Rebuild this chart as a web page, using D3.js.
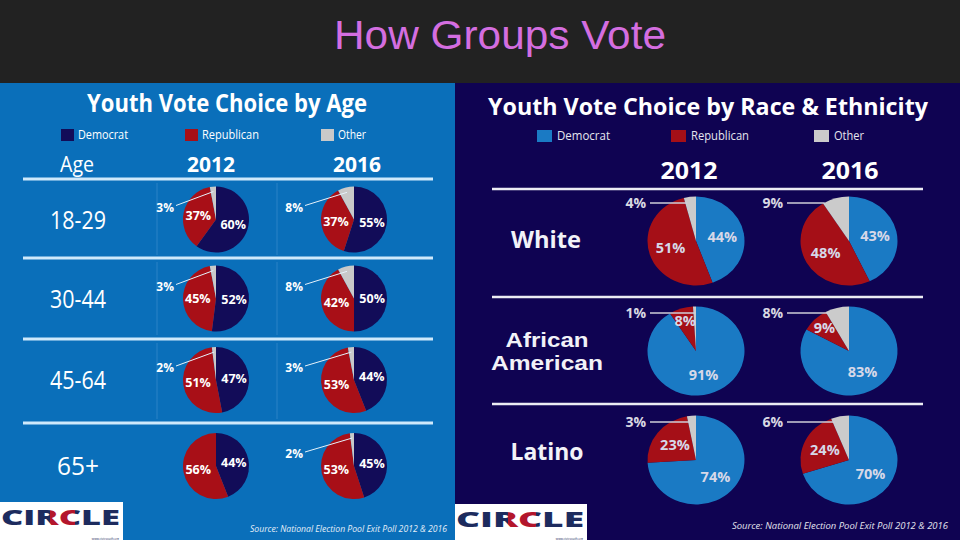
<!DOCTYPE html>
<html><head><meta charset="utf-8">
<script src="https://cdn.jsdelivr.net/npm/d3@7"></script>
<style>html,body{margin:0;padding:0;background:#222;}svg{display:block;}</style>
</head><body>
<script>
// ---------- DATA ----------
const parties = ["Democrat", "Republican", "Other"];
const years = ["2012", "2016"];
const ageGroups = ["18-29", "30-44", "45-64", "65+"];
const ageDem2012 = [60, 52, 47, 44];
const ageRep2012 = [37, 45, 51, 56];
const ageOth2012 = [3, 3, 2, 0];
const ageDem2016 = [55, 50, 44, 45];
const ageRep2016 = [37, 42, 53, 53];
const ageOth2016 = [8, 8, 3, 2];
const raceGroups = ["White", "African American", "Latino"];
const raceDem2012 = [44, 91, 74];
const raceRep2012 = [51, 8, 23];
const raceOth2012 = [4, 1, 3];
const raceDem2016 = [43, 83, 70];
const raceRep2016 = [48, 9, 24];
const raceOth2016 = [9, 8, 6];
const slideTitle = "How Groups Vote";
const ageTitle = "Youth Vote Choice by Age";
const raceTitle = "Youth Vote Choice by Race & Ethnicity";
const sourceText = "Source: National Election Pool Exit Poll 2012 & 2016";

// ---------- SETUP ----------
const W = 960, H = 540;
const svg = d3.select("body").append("svg").attr("width", W).attr("height", H);
const FONT = "'Open Sans', 'DejaVu Sans', sans-serif";
const defs = svg.append("defs");

svg.append("rect").attr("width", W).attr("height", H).attr("fill", "#222222");
svg.append("text").attr("x", 500).attr("y", 49).attr("text-anchor", "middle")
  .attr("font-family", "'Liberation Sans', Arial, sans-serif").attr("font-size", 40)
  .attr("fill", "#d46ee0").attr("textLength", 332).attr("lengthAdjust", "spacingAndGlyphs")
  .text(slideTitle);

const pie = d3.pie().sort(null).value(d => d.v);

// ======== LEFT PANEL (age) ========
const L = svg.append("g");
L.append("rect").attr("x", 0).attr("y", 83).attr("width", 455).attr("height", 457).attr("fill", "#0a6fba");
const leftColors = d3.scaleOrdinal().domain(parties).range(["#120c58", "#a80f17", "#c9c9c9"]);

L.append("text").attr("x", 227).attr("y", 112).attr("text-anchor", "middle")
  .attr("font-family", FONT).attr("font-weight", 700).attr("font-size", 25)
  .attr("fill", "#fff").attr("textLength", 280).attr("lengthAdjust", "spacingAndGlyphs").text(ageTitle);

const legL = d3.scaleOrdinal().domain(parties).range([61, 185, 321]);
parties.forEach(p => {
  L.append("rect").attr("x", legL(p)).attr("y", 129).attr("width", 13).attr("height", 12).attr("fill", leftColors(p));
  L.append("text").attr("x", legL(p) + 17).attr("y", 139).attr("font-family", FONT).attr("font-size", 12)
    .attr("fill", "#fff").attr("textLength", p === "Democrat" ? 50 : (p === "Republican" ? 57 : 28))
    .attr("lengthAdjust", "spacingAndGlyphs").text(p);
});

L.append("text").attr("x", 60).attr("y", 172).attr("font-family", FONT).attr("font-size", 22)
  .attr("fill", "#fff").attr("textLength", 34).attr("lengthAdjust", "spacingAndGlyphs").text("Age");
const colL = d3.scaleOrdinal().domain(years).range([216, 354]);
const headL = d3.scaleOrdinal().domain(years).range([211, 357]);
years.forEach(y => {
  L.append("text").attr("x", headL(y)).attr("y", 172).attr("text-anchor", "middle")
    .attr("font-family", FONT).attr("font-weight", 700).attr("font-size", 22).attr("fill", "#fff")
    .attr("textLength", 48).attr("lengthAdjust", "spacingAndGlyphs").text(y);
});

const rowL = d3.scaleOrdinal().domain(ageGroups).range([219.5, 298.5, 380, 466]);
const lineYL = [179, 258, 339, 423];
// faint cell borders
[[183, 255], [262, 335], [343, 419]].forEach(([a, b]) => {
  [157, 277].forEach(x => L.append("line").attr("x1", x).attr("x2", x).attr("y1", a).attr("y2", b)
    .attr("stroke", "#2a83c6").attr("stroke-width", 1));
});
lineYL.forEach(y => L.append("line").attr("x1", 23).attr("x2", 433).attr("y1", y).attr("y2", y)
  .attr("stroke", "#cfe9fb").attr("stroke-width", 3));

ageGroups.forEach((g, i) => {
  L.append("text").attr("x", 78).attr("y", rowL(g) + 9).attr("text-anchor", "middle")
    .attr("font-family", FONT).attr("font-size", 26).attr("fill", "#fff")
    .attr("textLength", g === "65+" ? 42 : 56).attr("lengthAdjust", "spacingAndGlyphs").text(g);
});

const rL = 33;
const arcL = d3.arc().innerRadius(0).outerRadius(rL);
const lblArcL = d3.arc().innerRadius(rL * 0.55).outerRadius(rL * 0.55);
function leftPie(cx, cy, vals, year) {
  const data = parties.map((p, k) => ({ p, v: vals[k] }));
  const arcs = pie(data);
  const g = L.append("g").attr("transform", `translate(${cx},${cy})`);
  g.selectAll("path").data(arcs).join("path").attr("d", arcL).attr("fill", d => leftColors(d.data.p));
  arcs.forEach(a => {
    if (a.data.p === "Other") {
      if (a.data.v <= 0) return;
      const mid = (a.startAngle + a.endAngle) / 2;
      const ex = Math.sin(mid) * rL * 0.85, ey = -Math.cos(mid) * rL * 0.85;
      const lx = year === "2012" ? -42 : -51;
      g.append("line").attr("x1", lx + 2).attr("y1", -14).attr("x2", ex).attr("y2", ey)
        .attr("stroke", "#e6f2fb").attr("stroke-width", 1);
      g.append("text").attr("x", lx).attr("y", -8).attr("text-anchor", "end")
        .attr("font-family", FONT).attr("font-weight", 700).attr("font-size", 12).attr("fill", "#fff")
        .text(a.data.v + "%");
    } else {
      const [x, y] = lblArcL.centroid(a);
      g.append("text").attr("x", x).attr("y", y).attr("text-anchor", "middle").attr("dy", "0.35em")
        .attr("font-family", FONT).attr("font-weight", 700).attr("font-size", 12.5).attr("fill", "#fff")
        .text(a.data.v + "%");
    }
  });
}
ageGroups.forEach((g, i) => {
  leftPie(colL("2012"), rowL(g), [ageDem2012[i], ageRep2012[i], ageOth2012[i]], "2012");
  leftPie(colL("2016"), rowL(g), [ageDem2016[i], ageRep2016[i], ageOth2016[i]], "2016");
});

// ======== RIGHT PANEL (race) ========
const R = svg.append("g");
R.append("rect").attr("x", 455).attr("y", 83).attr("width", 505).attr("height", 457).attr("fill", "#0f0352");
const rightColors = d3.scaleOrdinal().domain(parties).range(["#1a7ac4", "#a50f17", "#cbcbcb"]);

R.append("text").attr("x", 708).attr("y", 115).attr("text-anchor", "middle")
  .attr("font-family", FONT).attr("font-weight", 700).attr("font-size", 23)
  .attr("fill", "#fff").attr("textLength", 440).attr("lengthAdjust", "spacingAndGlyphs").text(raceTitle);

const legR = d3.scaleOrdinal().domain(parties).range([537, 671, 814]);
parties.forEach(p => {
  R.append("rect").attr("x", legR(p)).attr("y", 130).attr("width", 15).attr("height", 12).attr("fill", rightColors(p));
  R.append("text").attr("x", legR(p) + 20).attr("y", 140).attr("font-family", FONT).attr("font-size", 12)
    .attr("fill", "#e6e6ee").attr("textLength", p === "Democrat" ? 53 : (p === "Republican" ? 58 : 30))
    .attr("lengthAdjust", "spacingAndGlyphs").text(p);
});

const colR = d3.scaleOrdinal().domain(years).range([696, 849]);
const headR = d3.scaleOrdinal().domain(years).range([689, 850]);
years.forEach(y => {
  R.append("text").attr("x", headR(y)).attr("y", 179).attr("text-anchor", "middle")
    .attr("font-family", FONT).attr("font-weight", 700).attr("font-size", 23).attr("fill", "#fff")
    .attr("textLength", 57).attr("lengthAdjust", "spacingAndGlyphs").text(y);
});
[189, 297, 404].forEach(y => R.append("line").attr("x1", 492).attr("x2", 923).attr("y1", y).attr("y2", y)
  .attr("stroke", "#ececf4").attr("stroke-width", 2.5));

const rowR = d3.scaleOrdinal().domain(raceGroups).range([241, 351, 460]);
// row labels
R.append("text").attr("x", 546).attr("y", 248).attr("text-anchor", "middle").attr("font-family", FONT)
  .attr("font-weight", 700).attr("font-size", 23).attr("fill", "#f2f2f8")
  .attr("textLength", 70).attr("lengthAdjust", "spacingAndGlyphs").text(raceGroups[0]);
const aa = raceGroups[1].split(" ");
const AAFONT = "'Liberation Sans', Arial, sans-serif";
R.append("text").attr("x", 547).attr("y", 347).attr("text-anchor", "middle").attr("font-family", AAFONT)
  .attr("font-weight", 700).attr("font-size", 20).attr("fill", "#f2f2f8")
  .attr("textLength", 83).attr("lengthAdjust", "spacingAndGlyphs").text(aa[0]);
R.append("text").attr("x", 547).attr("y", 370).attr("text-anchor", "middle").attr("font-family", AAFONT)
  .attr("font-weight", 700).attr("font-size", 20).attr("fill", "#f2f2f8")
  .attr("textLength", 112).attr("lengthAdjust", "spacingAndGlyphs").text(aa[1]);
R.append("text").attr("x", 547).attr("y", 460).attr("text-anchor", "middle").attr("font-family", FONT)
  .attr("font-weight", 700).attr("font-size", 23).attr("fill", "#f2f2f8")
  .attr("textLength", 73).attr("lengthAdjust", "spacingAndGlyphs").text(raceGroups[2]);

const rxR = 48.5, ryR = 44.5;
const arcR = d3.arc().innerRadius(0).outerRadius(rxR);
function rightPie(cx, cy, vals, year) {
  const data = parties.map((p, k) => ({ p, v: vals[k] }));
  const arcs = pie(data);
  const g = R.append("g").attr("transform", `translate(${cx},${cy})`);
  g.append("g").attr("transform", `scale(1,${ryR / rxR})`)
    .selectAll("path").data(arcs).join("path").attr("d", arcR).attr("fill", d => rightColors(d.data.p));
  arcs.forEach(a => {
    if (a.data.p === "Other") {
      const ly = -38;
      const tx = Math.tan(a.startAngle) * (-ly) * rxR / ryR + 2;
      const lx = year === "2012" ? -50 : -66;
      g.append("line").attr("x1", lx + 4).attr("x2", tx).attr("y1", ly).attr("y2", ly)
        .attr("stroke", "#cfcfd8").attr("stroke-width", 1.5);
      g.append("text").attr("x", lx).attr("y", ly + 5).attr("text-anchor", "end")
        .attr("font-family", FONT).attr("font-weight", 700).attr("font-size", 14).attr("fill", "#d9d9e3")
        .text(a.data.v + "%");
    } else {
      const frac = (a.endAngle - a.startAngle) / (2 * Math.PI);
      const k = frac < 0.15 ? 0.72 : 0.55;
      const mid = (a.startAngle + a.endAngle) / 2;
      const x = Math.sin(mid) * rxR * k, y = -Math.cos(mid) * ryR * k;
      g.append("text").attr("x", x).attr("y", y).attr("text-anchor", "middle").attr("dy", "0.35em")
        .attr("font-family", FONT).attr("font-weight", 700).attr("font-size", 14.5).attr("fill", "#d6d8e8")
        .text(a.data.v + "%");
    }
  });
}
raceGroups.forEach((g, i) => {
  rightPie(colR("2012"), rowR(g), [raceDem2012[i], raceRep2012[i], raceOth2012[i]], "2012");
  rightPie(colR("2016"), rowR(g), [raceDem2016[i], raceRep2016[i], raceOth2016[i]], "2016");
});

// ======== LOGOS & SOURCES ========
function logo(id, x, y, w, h) {
  svg.append("rect").attr("x", x).attr("y", y).attr("width", w).attr("height", h).attr("fill", "#ffffff");
  const grad = defs.append("linearGradient").attr("id", id).attr("gradientUnits", "userSpaceOnUse")
    .attr("x1", x).attr("x2", x + w).attr("y1", 0).attr("y2", 0);
  [[0, "#1d2b5e"], [0.405, "#1d2b5e"], [0.405, "#b3162c"], [0.61, "#b3162c"], [0.61, "#1d2b5e"], [1, "#1d2b5e"]]
    .forEach(([o, c]) => grad.append("stop").attr("offset", o).attr("stop-color", c));
  svg.append("text").attr("x", x + 1).attr("y", y + 23).attr("font-family", FONT)
    .attr("font-weight", 800).attr("font-size", 21).attr("fill", `url(#${id})`)
    .attr("textLength", w - 4).attr("lengthAdjust", "spacingAndGlyphs").text("CIRCLE");
  svg.append("text").attr("x", x + w - 4).attr("y", 539.5).attr("text-anchor", "end")
    .attr("font-family", FONT).attr("font-size", 3).attr("fill", "#1d2b5e").text("www.civicyouth.org");
}
logo("lg1", 0, 502, 123, 38);
logo("lg2", 455, 504, 132, 36);

svg.append("text").attr("x", 250).attr("y", 532).attr("font-family", FONT).attr("font-style", "italic")
  .attr("font-size", 8.5).attr("fill", "#e4eef8").attr("textLength", 197).attr("lengthAdjust", "spacingAndGlyphs").text(sourceText);
svg.append("text").attr("x", 732).attr("y", 529).attr("font-family", FONT).attr("font-style", "italic")
  .attr("font-size", 9).attr("fill", "#e4e4ee").attr("textLength", 216).attr("lengthAdjust", "spacingAndGlyphs").text(sourceText);
</script>
</body></html>
